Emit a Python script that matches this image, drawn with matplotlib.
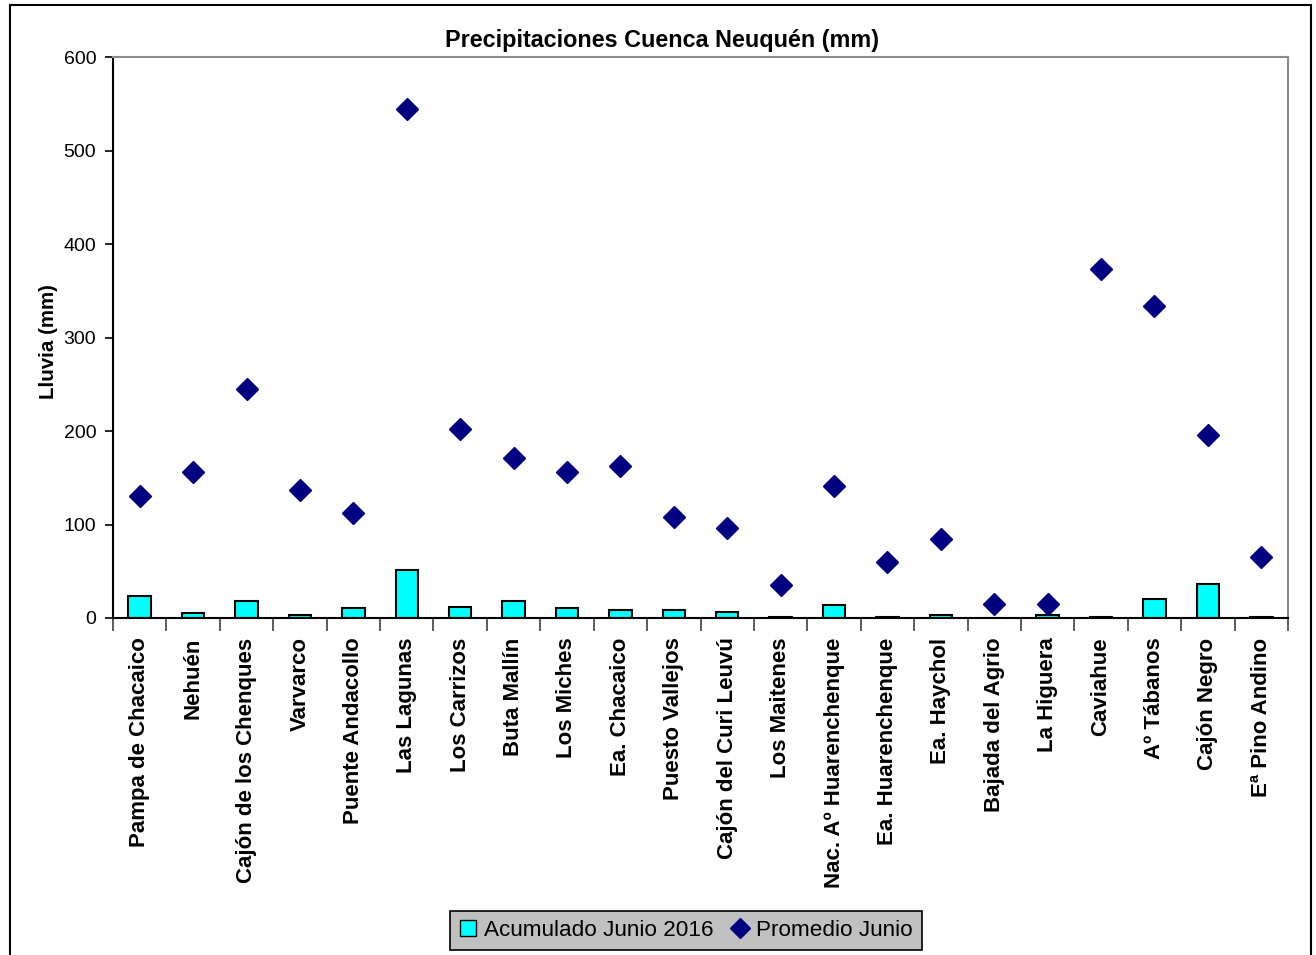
import matplotlib
matplotlib.use("Agg")
import matplotlib.pyplot as plt
import numpy as np
from matplotlib.patches import Rectangle
from matplotlib.lines import Line2D

plt.rcParams['font.family'] = ['Liberation Sans', 'DejaVu Sans']

estaciones = ["Pampa de Chacaico", "Nehuén", "Cajón de los Chenques", "Varvarco",
              "Puente Andacollo", "Las Lagunas", "Los Carrizos", "Buta Mallín",
              "Los Miches", "Ea. Chacaico", "Puesto Vallejos", "Cajón del Curi Leuvú",
              "Los Maitenes", "Nac. Aº Huarenchenque", "Ea. Huarenchenque", "Ea. Haychol",
              "Bajada del Agrio", "La Higuera", "Caviahue", "Aº Tábanos", "Cajón Negro",
              "Eª Pino Andino"]

acumulado_2016 = [23, 5.3, 18.5, 3.5, 10.3, 51.7, 11.8, 18.5, 10.3, 8.6, 8.6, 6.7,
                  1.5, 13.5, 1.5, 3.5, 0, 3.5, 1.5, 20.3, 36.7, 1.5]
promedio_junio = [130.5, 156, 245, 137, 112, 544, 202, 171, 156, 162.5, 108, 96,
                  35, 141, 60, 84.5, 15, 15, 373, 334, 196, 65]

W, H = 1316, 955
fig = plt.figure(figsize=(W / 100, H / 100), dpi=100)
ax = fig.add_axes([113 / W, 1 - 618 / H, (1288 - 113) / W, (618 - 57) / H])

x = np.arange(len(estaciones))
ax.bar(x, acumulado_2016, width=0.42, color="#00ffff", edgecolor="black",
       linewidth=1.5, zorder=2)
ax.plot(x, promedio_junio, linestyle="none", marker="D", markersize=11.5,
        color="#000080", zorder=3)

ax.set_xlim(-0.5, len(estaciones) - 0.5)
ax.set_ylim(0, 600)
ax.set_yticks(np.arange(0, 601, 100))
ax.tick_params(axis="y", labelsize=14, direction="out", length=6, width=1.2, pad=6)

# category labels at centres, tick marks on the boundaries
ax.set_xticks(x)
ax.set_xticklabels(estaciones, rotation=90, fontsize=16, fontweight="bold")
ax.tick_params(axis="x", which="major", length=0, pad=14)
ax.set_xticks(np.arange(-0.5, len(estaciones), 1.0), minor=True)
ax.tick_params(axis="x", which="minor", direction="out", length=9, width=1.2,
               color="#404040")

for s in ("left", "bottom"):
    ax.spines[s].set_color("black")
    ax.spines[s].set_linewidth(1.5)
for s in ("top", "right"):
    ax.spines[s].set_color("#8c8c8c")
    ax.spines[s].set_linewidth(1.5)

fig.text(0.503, 1 - 40 / H, "Precipitaciones Cuenca Neuquén (mm)", ha="center",
         va="center", fontsize=16.8, fontweight="bold")
fig.text(48 / W, 1 - 342 / H, "Lluvia (mm)", rotation=90, ha="center", va="center",
         fontsize=14.8, fontweight="bold")

# outer chart frame
fig.patches.append(Rectangle((9.5 / W, -0.02), (1311 - 9.5) / W, 1.02 - 5 / H,
                             transform=fig.transFigure, fill=False,
                             edgecolor="black", linewidth=1.5))

handles = [
    Line2D([], [], linestyle="none", marker="s", markersize=12,
           markerfacecolor="#00ffff", markeredgecolor="black"),
    Line2D([], [], linestyle="none", marker="D", markersize=10.5, color="#000080"),
]
leg = fig.legend(handles, ["Acumulado Junio 2016", "Promedio Junio"],
                 loc="center", bbox_to_anchor=(686 / W, 1 - 930 / H), ncol=2,
                 fontsize=16.2, frameon=True, fancybox=False, handlelength=0.8,
                 handletextpad=0.3, columnspacing=0.8, borderpad=0.4)
leg.get_frame().set_facecolor("#c0c0c0")
leg.get_frame().set_edgecolor("black")
leg.get_frame().set_linewidth(1.2)
leg.get_frame().set_alpha(1)

fig.savefig("out.png", dpi=100)
